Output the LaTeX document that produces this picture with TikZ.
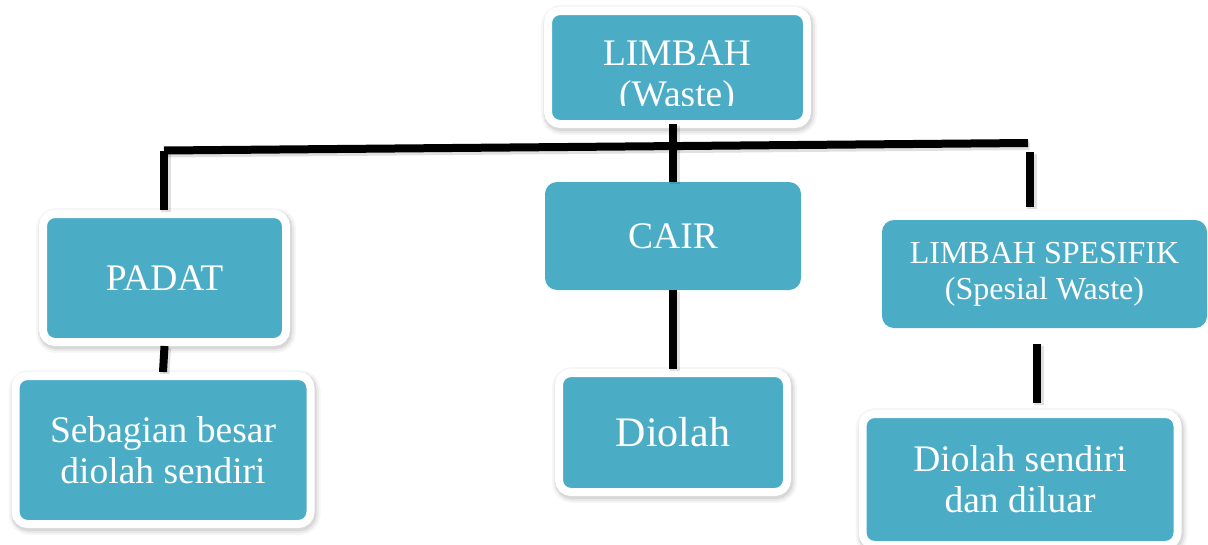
\documentclass[tikz,border=0pt]{standalone}
\usepackage{fontspec}
\setmainfont{Liberation Serif}
\usetikzlibrary{shadows,calc}
\definecolor{boxteal}{RGB}{75,172,198}
\tikzset{
  x=1pt, y=-1pt,
  tealbox/.style={rounded corners=12pt, fill=boxteal, inner sep=0pt, text=white, align=center},
  % soft halo around the white frame, heavier towards the lower right
  framedbox/.style={tealbox, draw=white, line width=8pt,
    general shadow={shadow xshift=1.5pt, shadow yshift=-2.5pt, draw=black, fill=black, line width=17pt, opacity=0.035},
    general shadow={shadow xshift=1.5pt, shadow yshift=-2.5pt, draw=black, fill=black, line width=13pt, opacity=0.05},
    general shadow={shadow xshift=1pt, shadow yshift=-2pt, draw=black, fill=black, line width=10pt, opacity=0.07}},
  plainbox/.style={tealbox, draw=none},
  link/.style={draw=black, line width=8pt,
    preaction={draw=black, opacity=0.12, line width=10pt, transform canvas={shift={(1.5pt,-2pt)}}}},
  bigtext/.style={font=\fontsize{37.5}{41}\selectfont},
  midtext/.style={font=\fontsize{32}{36}\selectfont},
  hugetext/.style={font=\fontsize{42}{46}\selectfont},
}
\begin{document}
\begin{tikzpicture}
\useasboundingbox[fill=white] (0,0) rectangle (1208,544);

% top box; its second line is cut off by the box edge
\node[framedbox, minimum width=259pt, minimum height=113pt] (limbah) at (677.5,67.5) {};
\begin{scope}
  \clip (548,11) rectangle (807,105);
  \node[bigtext, text=white, align=center, inner sep=0pt] (limbahtext) at (677,78) {LIMBAH\\(Waste)};
\end{scope}

% second level
\node[framedbox, bigtext, minimum width=243pt, minimum height=128pt] (padat) at (164.5,278) {PADAT};
\node[plainbox, bigtext, minimum width=256pt, minimum height=108pt] (cair) at (673,236) {CAIR};
\node[plainbox, midtext, minimum width=325pt, minimum height=108pt] (spes) at (1044.5,274) {LIMBAH SPESIFIK\\(Spesial Waste)};

% third level
\node[framedbox, bigtext, minimum width=295pt, minimum height=148pt] (sebagian) at (163,450) {Sebagian besar\\diolah sendiri};
\node[framedbox, hugetext, minimum width=228pt, minimum height=119pt] (diolah) at (673,432.5) {Diolah};
\node[framedbox, bigtext, minimum width=315pt, minimum height=131pt] (dsendiri) at (1020,479.5) {Diolah sendiri\\dan diluar};

% connectors
\coordinate (barL) at (164,150.5);
\coordinate (barR) at (1028,143);
\coordinate (rTop) at (1030,152);
\coordinate (rEnd) at (1030,207);
\coordinate (sTop) at (1037,344);
\coordinate (sBot) at (1037,403);

\draw[link] (barL) -- (barR);
\draw[link] (barL) -- (barL |- padat.north);
\draw[link] ($(cair.north |- limbah.south)+(0,-4)$) -- (cair.north);
\draw[link] (rTop) -- (rEnd);
\draw[link] (padat.south) -- (sebagian.north);
\draw[link] (cair.south) -- (diolah.north);
\draw[link] (sTop) -- (sBot);
\end{tikzpicture}
\end{document}
